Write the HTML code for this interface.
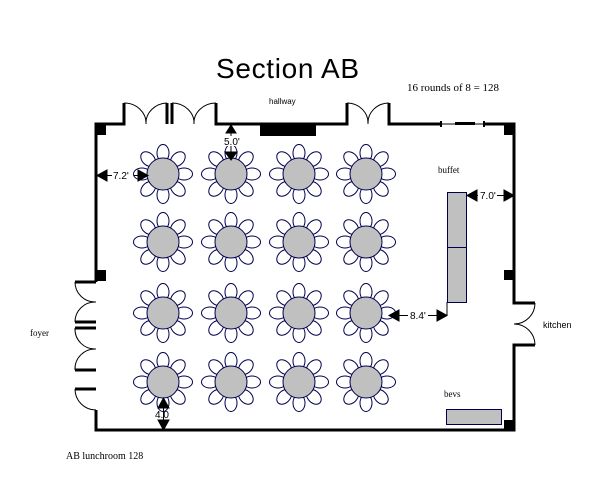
<!DOCTYPE html>
<html><head><style>
html,body{margin:0;padding:0;background:#fff;}
svg{display:block;}
text{font-family:"Liberation Serif",serif;fill:#000;}
</style></head><body>
<svg width="600" height="480" viewBox="0 0 600 480" xmlns="http://www.w3.org/2000/svg">
<defs>
<g id="t">
 <g fill="#fff" stroke="#000050" stroke-width="1">
  <ellipse cx="0" cy="-21" rx="6" ry="8.5"/>
  <ellipse cx="0" cy="-21" rx="6" ry="8.5" transform="rotate(45)"/>
  <ellipse cx="0" cy="-21" rx="6" ry="8.5" transform="rotate(90)"/>
  <ellipse cx="0" cy="-21" rx="6" ry="8.5" transform="rotate(135)"/>
  <ellipse cx="0" cy="-21" rx="6" ry="8.5" transform="rotate(180)"/>
  <ellipse cx="0" cy="-21" rx="6" ry="8.5" transform="rotate(225)"/>
  <ellipse cx="0" cy="-21" rx="6" ry="8.5" transform="rotate(270)"/>
  <ellipse cx="0" cy="-21" rx="6" ry="8.5" transform="rotate(315)"/>
 </g>
 <circle r="16" fill="#c0c0c0" stroke="#000050" stroke-width="1"/>
</g>
</defs>

<text x="216" y="78" font-size="28" style="font-family:'Liberation Sans',sans-serif" textLength="143">Section AB</text>
<text x="407" y="91" font-size="11">16 rounds of 8 = 128</text>
<text x="269" y="104" font-size="8" style="font-family:'Liberation Sans',sans-serif">hallway</text>
<text x="438" y="173" font-size="9">buffet</text>
<text x="543" y="328" font-size="9" style="font-family:'Liberation Sans',sans-serif">kitchen</text>
<text x="30" y="336" font-size="9">foyer</text>
<text x="444" y="397" font-size="9">bevs</text>
<text x="66" y="459" font-size="10">AB lunchroom 128</text>

<g stroke="#000" stroke-width="3" fill="none">
 <path d="M96 282 V124 H124 V103"/>
 <path d="M167 103 V124 M172 124 V103 M216 103 V124 H347 V103 M389 103 V124 H440"/>
 <path d="M485 124 H514 V303 H535"/>
 <path d="M535 345 H514 V430 H96 V410"/>
 <path d="M75 282 H96"/>
 <path d="M75 322 H96 M75 328 H96"/>
 <path d="M75 370 H96 M75 389 H96"/>
</g>
<g stroke="#000" stroke-width="1" fill="none">
 <path d="M124 103 A22 20 0 0 1 146 124 M167 103 A22 20 0 0 0 146 124"/>
 <path d="M172 103 A22 20 0 0 1 194 124 M216 103 A22 20 0 0 0 194 124"/>
 <path d="M347 103 A21 20 0 0 1 368 124 M389 103 A21 20 0 0 0 368 124"/>
 <path d="M75 282 A20 20 0 0 0 96 302 M75 322 A20 20 0 0 1 96 302"/>
 <path d="M75 328 A20 20 0 0 0 96 349 M75 370 A20 20 0 0 1 96 349"/>
 <path d="M75 389 A21 21 0 0 0 96 410"/>
 <path d="M535 303 A21 21 0 0 1 514 324 M535 345 A21 21 0 0 0 514 324"/>
 <path d="M440 124 H485"/>
</g>
<rect x="455" y="122" width="20" height="3" fill="#000"/>
<rect x="440" y="121" width="2" height="6" fill="#000"/>
<rect x="483" y="121" width="2" height="6" fill="#000"/>

<g fill="#000">
 <rect x="96" y="124" width="10" height="11"/>
 <rect x="504" y="124" width="10" height="11"/>
 <rect x="96" y="270" width="10" height="11"/>
 <rect x="504" y="270" width="10" height="10"/>
 <rect x="504" y="420" width="10" height="10"/>
 <rect x="260" y="124" width="56" height="12"/>
</g>

<g>
 <use href="#t" x="163" y="174"/><use href="#t" x="231" y="174"/><use href="#t" x="299" y="174"/><use href="#t" x="366" y="174"/>
 <use href="#t" x="163" y="242"/><use href="#t" x="231" y="242"/><use href="#t" x="299" y="242"/><use href="#t" x="366" y="242"/>
 <use href="#t" x="163" y="313"/><use href="#t" x="231" y="313"/><use href="#t" x="299" y="313"/><use href="#t" x="366" y="313"/>
 <use href="#t" x="163" y="382"/><use href="#t" x="231" y="382"/><use href="#t" x="299" y="382"/><use href="#t" x="366" y="382"/>
</g>

<g fill="#c0c0c0" stroke="#000050" stroke-width="1">
 <rect x="447.5" y="192.5" width="19" height="110"/>
 <line x1="447" y1="247.5" x2="467" y2="247.5"/>
 <rect x="446.5" y="409.5" width="55" height="15"/>
</g>

<g stroke="#000" stroke-width="1" fill="#000">
 <line x1="97" y1="175.5" x2="112" y2="175.5"/>
 <line x1="134" y1="175.5" x2="148" y2="175.5"/>
 <polygon points="97,175.5 107,170 107,181"/>
 <polygon points="148,175.5 138,170 138,181"/>
 <polygon points="231,125 226,133 236,133"/>
 <line x1="231" y1="125" x2="231" y2="160"/>
 <polygon points="231,160 225,152 237,152"/>
 <line x1="467" y1="195.5" x2="478" y2="195.5"/>
 <line x1="497" y1="195.5" x2="514" y2="195.5"/>
 <polygon points="467,195.5 477,190 477,201"/>
 <polygon points="514,195.5 504,190 504,201"/>
 <line x1="389" y1="315.5" x2="408" y2="315.5"/>
 <line x1="428" y1="315.5" x2="447" y2="315.5"/>
 <line x1="447" y1="302" x2="447" y2="315.5"/>
 <polygon points="389,315.5 399,310 399,321"/>
 <polygon points="447,315.5 437,310 437,321"/>
 <line x1="163.5" y1="398" x2="163.5" y2="430"/>
 <polygon points="163.5,398 158,408 169,408"/>
 <polygon points="163.5,430 158,420 169,420"/>
</g>
<rect x="220" y="136" width="22" height="10" fill="#fff"/>
<text x="224" y="145" font-size="10" style="font-family:'Liberation Sans',sans-serif">5.0'</text>
<text x="113" y="179" font-size="10" style="font-family:'Liberation Sans',sans-serif">7.2'</text>
<text x="480" y="199" font-size="10" style="font-family:'Liberation Sans',sans-serif">7.0'</text>
<text x="410" y="319" font-size="10" style="font-family:'Liberation Sans',sans-serif">8.4'</text>
<text x="155" y="418" font-size="10" style="font-family:'Liberation Sans',sans-serif">4.0</text>
</svg>
</body></html>
